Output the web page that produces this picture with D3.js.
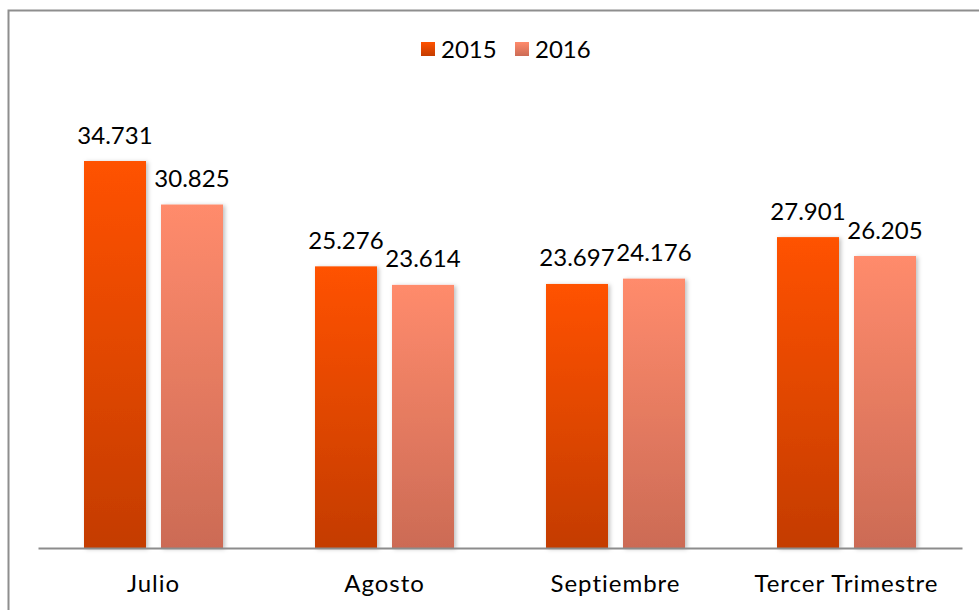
<!DOCTYPE html>
<html>
<head>
<meta charset="utf-8">
<style>
  body { margin: 0; background: #fff; }
  text { font-family: Lato, "Open Sans", sans-serif; fill: #000; }
</style>
</head>
<body>
<svg width="979" height="610"></svg>
<script src="https://cdn.jsdelivr.net/npm/d3@7"></script>
<script>
var categories = ["Julio", "Agosto", "Septiembre", "Tercer Trimestre"];
var seriesNames = ["2015", "2016"];
var values2015 = [34731, 25276, 23697, 27901];
var values2016 = [30825, 23614, 24176, 26205];
var labels2015 = ["34.731", "25.276", "23.697", "27.901"];
var labels2016 = ["30.825", "23.614", "24.176", "26.205"];

var svg = d3.select("svg");
var x0 = 38, x1 = 962, baseY = 548;

// outer chart frame (right/bottom edges fall outside the picture)
svg.append("rect")
  .attr("x", 8.5).attr("y", 10.5)
  .attr("width", 1000).attr("height", 700)
  .attr("fill", "none").attr("stroke", "#8e8e8e").attr("stroke-width", 2);

var defs = svg.append("defs");
function grad(id, top, bottom) {
  var g = defs.append("linearGradient").attr("id", id)
    .attr("x1", "0%").attr("y1", "0%").attr("x2", "0%").attr("y2", "100%");
  g.append("stop").attr("offset", "0%").attr("stop-color", top);
  g.append("stop").attr("offset", "100%").attr("stop-color", bottom);
}
grad("g2015", "#ff5200", "#c43c00");
grad("g2016", "#ff8b6c", "#cc6b55");
var shadow = defs.append("filter").attr("id", "shadow")
  .attr("x", "-20%").attr("y", "-5%").attr("width", "150%").attr("height", "115%");
shadow.append("feDropShadow").attr("dx", 2).attr("dy", 1).attr("stdDeviation", 2)
  .attr("flood-color", "#000").attr("flood-opacity", 0.25);

var xScale = d3.scaleBand().domain(categories).range([x0, x1]);
var yScale = d3.scaleLinear().domain([0, 40000]).range([baseY, 102.3]);
var barW = 62, gap = 15;

var rows = categories.map(function(c, i) {
  return [
    { cat: c, s: 0, v: values2015[i], label: labels2015[i] },
    { cat: c, s: 1, v: values2016[i], label: labels2016[i] }
  ];
});
function barX(d) {
  var c = xScale(d.cat) + xScale.bandwidth() / 2;
  return d.s === 0 ? c - gap / 2 - barW : c + gap / 2;
}

var bars = svg.append("g").selectAll("g").data(d3.merge(rows)).enter().append("g");
bars.append("rect")
  .attr("x", barX)
  .attr("y", function(d) { return yScale(d.v); })
  .attr("width", barW)
  .attr("height", function(d) { return baseY - yScale(d.v); })
  .attr("fill", function(d) { return d.s === 0 ? "url(#g2015)" : "url(#g2016)"; })
  .attr("filter", "url(#shadow)");
bars.append("text")
  .attr("x", function(d) { return barX(d) + barW / 2; })
  .attr("y", function(d) { return yScale(d.v) - 17.5; })
  .attr("text-anchor", "middle")
  .style("font-size", "24px")
  .text(function(d) { return d.label; });

// category axis
var axis = svg.append("g").attr("transform", "translate(0," + baseY + ")")
  .call(d3.axisBottom(xScale).tickSize(0).tickPadding(26.5));
axis.select(".domain").attr("stroke", "#8c8c8c").attr("stroke-width", 2);
axis.selectAll("text").style("font-size", "24px").style("letter-spacing", "1px")
  .style("font-family", "Lato, 'Open Sans', sans-serif").attr("fill", "#000");

// legend
var legend = svg.append("g");
var legX = [421, 515];
seriesNames.forEach(function(n, i) {
  legend.append("rect").attr("x", legX[i]).attr("y", 42).attr("width", 14).attr("height", 14)
    .attr("fill", i === 0 ? "url(#g2015)" : "url(#g2016)");
  legend.append("text").attr("x", legX[i] + 20).attr("y", 57.5)
    .style("font-size", "24px").text(n);
});
</script>
</body>
</html>
